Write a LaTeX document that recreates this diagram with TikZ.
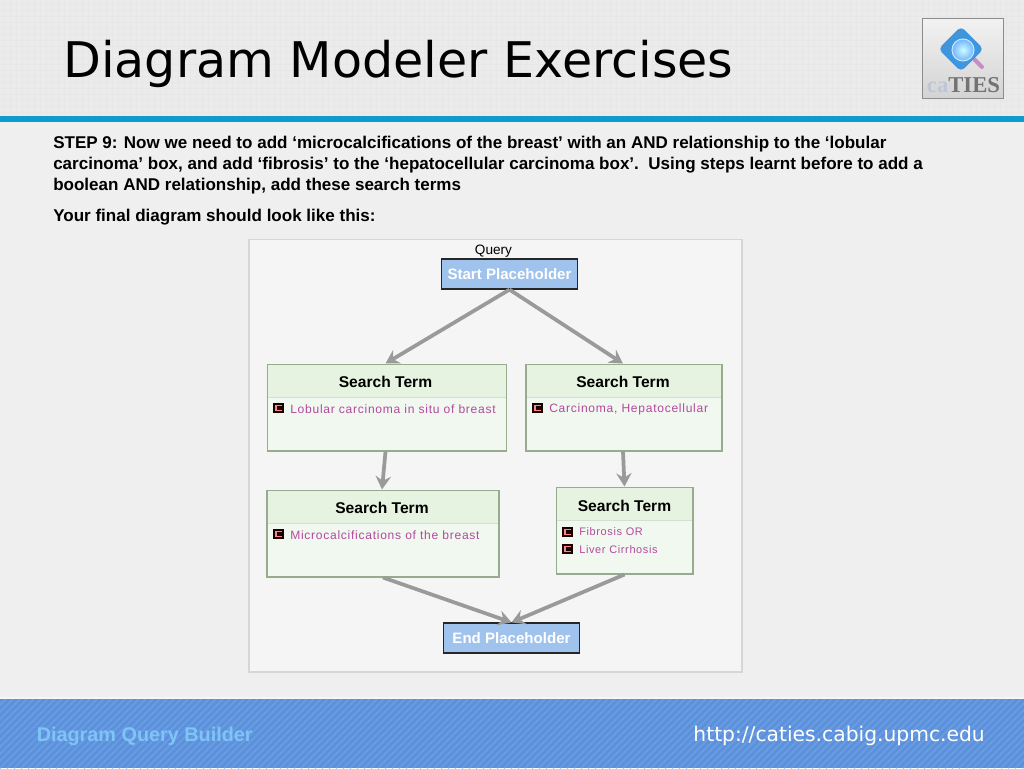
\documentclass[tikz,border=0pt]{standalone}
\usepackage{fontspec}
\setmainfont{Liberation Sans}
\newfontfamily\djv{DejaVu Sans}
\newfontfamily\spaced[LetterSpace=6]{Liberation Sans}
\newfontfamily\logofont{Liberation Serif}
\usetikzlibrary{arrows.meta}
\definecolor{bgc}{HTML}{EFEFEF}
\definecolor{headc}{HTML}{EBEBEB}
\definecolor{gridc}{HTML}{E7E7E7}
\definecolor{barc}{HTML}{0E9BD0}
\definecolor{footc}{HTML}{5B91DC}
\definecolor{stripec}{HTML}{6A9BE0}
\definecolor{foott}{HTML}{7FC4F7}
\definecolor{panelc}{HTML}{F5F5F5}
\definecolor{panelb}{HTML}{D6D6D6}
\definecolor{phfill}{HTML}{A0C3EE}
\definecolor{stb}{HTML}{97AC8F}
\definecolor{sth}{HTML}{E6F3E0}
\definecolor{stf}{HTML}{F0F8F0}
\definecolor{termc}{HTML}{B5489E}
\definecolor{arrc}{HTML}{9A9A9A}
\definecolor{logob}{HTML}{3F96DC}
\definecolor{logoca}{HTML}{BFC6D8}
\tikzset{
  x=0.75pt,y=-0.75pt,
  ph/.style={draw=black!85,line width=0.9pt,fill=phfill,text=white,inner sep=0pt,font=\fontsize{11.3pt}{12pt}\selectfont\bfseries,minimum height=22.5pt},
  stbox/.style={draw=stb,line width=1pt,fill=stf,inner sep=0pt},
  sthead/.style={inner sep=0pt,font=\fontsize{11.7pt}{13pt}\selectfont\bfseries,text=black},
  term/.style={anchor=west,inner sep=0pt,text=termc,font=\spaced\fontsize{9.05pt}{10pt}\selectfont},
  termsmall/.style={term,font=\spaced\fontsize{8.2pt}{10pt}\selectfont},
  icon/.style={fill=black!90!red,inner sep=0pt,minimum size=8pt},
  conn/.style={draw=arrc,line width=2.8pt,-{Stealth[length=10pt,width=11.5pt,inset=3.5pt]}},
  bodytxt/.style={anchor=north west,inner sep=0pt,align=left,font=\fontsize{12.77pt}{15.75pt}\selectfont\bfseries,text=black},
}
\newcommand{\termicon}[2]{%
  \node[icon] at (#1,#2) {};
  \draw[color=pink!70!red,line width=0.8pt] (#1+3,#2-2.5) -- (#1-2.5,#2-2.5) -- (#1-2.5,#2+2.5) -- (#1+3,#2+2.5);
}
\begin{document}
\begin{tikzpicture}
\useasboundingbox (0,0) rectangle (1024,768);
\fill[bgc] (0,0) rectangle (1024,768);
% header
\fill[headc] (0,0) rectangle (1024,116);
\foreach \g in {4,10,...,1022} \draw[gridc,line width=0.2pt] (\g,0) -- (\g,116);
\foreach \g in {4,10,...,112} \draw[gridc,line width=0.2pt] (0,\g) -- (1024,\g);
\fill[barc] (0,116) rectangle (1024,122);
\node[anchor=base west,inner sep=0pt,font=\djv\fontsize{36.85pt}{40pt}\selectfont,text=black] (title) at (63,77) {Diagram Modeler Exercises};
% logo
\shade[top color=white!95!black,bottom color=black!17,draw=black!45,line width=0.7pt] (922,18) rectangle (1003,98);
\draw[violet!45,line width=3pt,line cap=round] (974,59) -- (982,67);
\fill[logob,rounded corners=3.5pt,rotate around={45:(961,49)}] (945,33) rectangle (977,65);
\shade[inner color=white!80!cyan,outer color=cyan!45!blue!55,draw=white!75!cyan,line width=0.8pt] (963,50) circle (11);
\node[anchor=base,inner sep=0pt,font=\logofont\fontsize{17pt}{18pt}\selectfont,text=black!55] (logotxt) at (963.5,92) {\textcolor{logoca}{\textbf{ca}}\textbf{TIES}};
% body text
\node[bodytxt] (body) at (53,136) {STEP 9: Now we need to add ‘microcalcifications of the breast’ with an AND relationship to the ‘lobular\\carcinoma’ box, and add ‘fibrosis’ to the ‘hepatocellular carcinoma box’.\ \ Using steps learnt before to add a\\boolean AND relationship, add these search terms};
\node[bodytxt,anchor=base west] (final) at (53,221) {Your final diagram should look like this:};
% panel
\draw[panelb,fill=panelc,line width=1pt] (249,239.5) rectangle (742,672);
\node[inner sep=0pt,font=\fontsize{10.2pt}{11pt}\selectfont,text=black] (qlabel) at (493.5,251) {Query};
\node[ph,minimum width=102.5pt] (start) at (509.5,274) {Start Placeholder};
\node[ph,minimum width=102.5pt] (end) at (511.5,638) {End Placeholder};
% search terms
\node[stbox,minimum width=179pt,minimum height=65pt] (s1) at (387,407.5) {};
\node[stbox,minimum width=147pt,minimum height=65pt] (s2) at (624,407.5) {};
\node[stbox,minimum width=174pt,minimum height=65pt] (s3) at (383,533.5) {};
\node[stbox,minimum width=102.5pt,minimum height=65pt] (s4) at (624.5,530.5) {};
\foreach \n in {s1,s2,s3,s4}{
  \fill[sth] ([shift={(1.3,1.3)}]\n.north west) rectangle ([shift={(-1.3,34)}]\n.north east);
  \draw[white!60!stb,line width=0.5pt] ([shift={(1.3,34)}]\n.north west) -- ([shift={(-1.3,34)}]\n.north east);
}
\node[sthead] (s1h) at (385.5,382) {Search Term};
\node[sthead] (s2h) at (623,382) {Search Term};
\node[sthead] (s3h) at (382,508) {Search Term};
\node[sthead] (s4h) at (624.5,505.5) {Search Term};
\termicon{278.5}{408}
\node[term] (t1) at (290,409) {Lobular carcinoma in situ of breast};
\termicon{537.5}{408}
\node[term] (t2) at (549,409) {Carcinoma, Hepatocellular};
\termicon{278.5}{534}
\node[term] (t3) at (290,535) {Microcalcifications of the breast};
\termicon{567.5}{532}
\node[termsmall] (t4) at (579,532) {Fibrosis OR};
\termicon{567.5}{549}
\node[termsmall] (t5) at (579,549.5) {Liver Cirrhosis};
% connectors
\draw[conn] (start.south) -- (s1h.center |- s1.north);
\draw[conn] (start.south) -- (s2h.center |- s2.north);
\draw[conn] (s1h.center |- s1.south) -- (s3h.center |- s3.north);
\draw[conn] (s2h.center |- s2.south) -- (s4h.center |- s4.north);
\draw[conn] (s3.south) -- (end.north);
\draw[conn] (s4.south) -- (end.north);
% footer
\fill[white!40!bgc] (0,697) rectangle (1024,699);
\fill[footc] (0,699) rectangle (1024,768);
\begin{scope}
\clip (0,699) rectangle (1024,768);
\foreach \g in {-77,-70,...,1029} \draw[stripec,line width=1.5pt] (\g,768) -- (\g+69,699);
\end{scope}
\node[anchor=base west,inner sep=0pt,font=\fontsize{14.87pt}{15pt}\selectfont\bfseries,text=foott] (ftl) at (36.5,741) {Diagram Query Builder};
\node[anchor=base east,inner sep=0pt,font=\djv\fontsize{15.2pt}{16pt}\selectfont,text=white] (ftr) at (985,741) {http://caties.cabig.upmc.edu};
\end{tikzpicture}
\end{document}
